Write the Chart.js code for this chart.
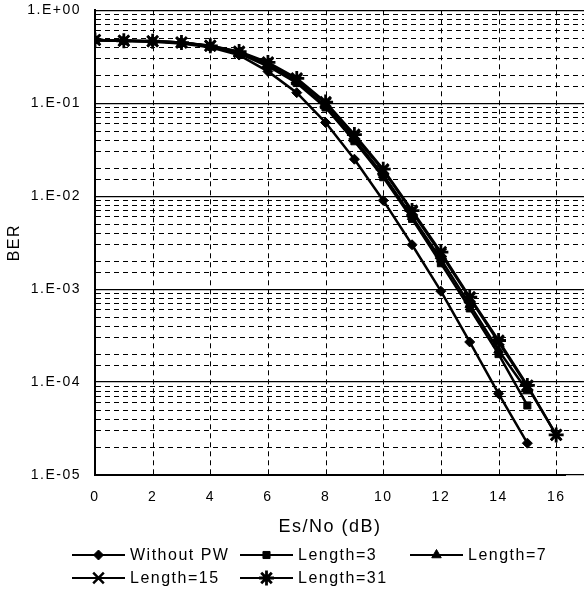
<!DOCTYPE html>
<html><head><meta charset="utf-8">
<script src="https://cdn.jsdelivr.net/npm/chart.js@4.4.0/dist/chart.umd.min.js"></script>
<style>html,body{margin:0;padding:0;background:#fff}#wrap{width:584px;height:598px;position:relative;overflow:hidden}</style>
</head><body><div id="wrap"><canvas id="c" width="584" height="598"></canvas></div>
<script>
// ---- data ----
const snr = [0,1,2,3,4,5,6,7,8,9,10,11,12,13,14,15,16];
const seriesNames = ['Without PW','Length=3','Length=7','Length=15','Length=31'];
const withoutPW = [0.48,0.47,0.46,0.44,0.40,0.33,0.22,0.13,0.062,0.025,0.009,0.003,0.00095,0.00027,0.000075,0.000022];
const length3   = [0.48,0.47,0.465,0.45,0.41,0.345,0.25,0.165,0.09,0.039,0.016,0.0057,0.0019,0.00062,0.0002,0.000056];
const length7   = [0.48,0.47,0.465,0.45,0.41,0.35,0.26,0.17,0.093,0.041,0.017,0.006,0.0021,0.00068,0.00022,0.00008];
const length15  = [0.48,0.47,0.465,0.45,0.415,0.355,0.27,0.18,0.1,0.044,0.019,0.0068,0.0024,0.0008,0.00027,0.00009,0.000027];
const length31  = [0.48,0.47,0.465,0.45,0.415,0.36,0.275,0.185,0.103,0.046,0.0195,0.007,0.0025,0.00082,0.00028,0.000092,0.000027];
const yTickLabels = ['1.E+00','1.E-01','1.E-02','1.E-03','1.E-04','1.E-05'];
const xTickLabels = ['0','2','4','6','8','10','12','14','16'];

const FONT = "'Liberation Sans', Arial, sans-serif";
Chart.defaults.font.family = FONT;
Chart.defaults.color = '#000';

const styles = [
  {pointStyle:'rectRot', radius:5, borderWidth:1},
  {pointStyle:'rect', radius:5, borderWidth:1},
  {pointStyle:'triangle', radius:5.5, borderWidth:1},
  {pointStyle:'crossRot', radius:7.5, borderWidth:2.5},
  {pointStyle:'star', radius:7.5, borderWidth:2.8}
];
const allSeries = [withoutPW, length3, length7, length15, length31];

const datasets = allSeries.map((arr, i) => ({
  label: seriesNames[i],
  data: arr.map((v, j) => ({x: snr[j], y: v})),
  borderColor: '#000',
  backgroundColor: '#000',
  borderWidth: 2.5,
  tension: 0,
  pointStyle: styles[i].pointStyle,
  pointRadius: styles[i].radius,
  pointBorderWidth: styles[i].borderWidth,
  pointBackgroundColor: '#000',
  pointBorderColor: '#000'
}));

const spacing = {
  id: 'spacing',
  beforeLayout(chart){ chart.ctx.letterSpacing = '1.5px'; },
  beforeDraw(chart){ chart.ctx.letterSpacing = '1.5px'; }
};

// let the plot run to the right edge of the canvas (x = 17 sits just past it)
const stretchRight = {
  id: 'stretchRight',
  afterLayout(chart){
    const xs = chart.scales.x;
    const target = chart.width + 1;
    xs.right = target;
    xs.width = target - xs.left;
    xs.configure();
    chart.chartArea.right = target;
    chart.chartArea.width = target - chart.chartArea.left;
    // axis title is centred on the visible original plot width
    xs.right = 565;
  }
};

// vertical dashed grid lines at the labelled (even) x ticks, positioned by the x scale
const vGrid = {
  id: 'vGrid',
  beforeDatasetsDraw(chart){
    const xs = chart.scales.x, a = chart.chartArea, ctx = chart.ctx;
    ctx.save();
    ctx.strokeStyle = '#000';
    ctx.lineWidth = 1;
    ctx.setLineDash([5, 4]);
    xs.ticks.forEach(t => {
      if (t.value % 2 === 0 && t.value > 0) {
        const px = Math.round(xs.getPixelForValue(t.value)) + 0.5;
        ctx.beginPath();
        ctx.moveTo(px, a.top);
        ctx.lineTo(px, a.bottom);
        ctx.stroke();
      }
    });
    ctx.restore();
  }
};

const customLegend = {
  id: 'customLegend',
  afterDraw(chart){
    const ctx = chart.ctx;
    const cols = [72, 240, 410];
    const rows = [555, 578];
    const lineLen = 53;
    ctx.save();
    ctx.letterSpacing = '1.5px';
    ctx.font = '16px ' + FONT;
    ctx.textBaseline = 'middle';
    ctx.textAlign = 'left';
    seriesNames.forEach((name, i) => {
      const x = cols[i % 3];
      const y = rows[Math.floor(i / 3)];
      ctx.strokeStyle = '#000';
      ctx.fillStyle = '#000';
      ctx.lineWidth = 2;
      ctx.setLineDash([]);
      ctx.beginPath();
      ctx.moveTo(x, y);
      ctx.lineTo(x + lineLen, y);
      ctx.stroke();
      ctx.lineWidth = styles[i].borderWidth;
      Chart.helpers.drawPoint(ctx, {pointStyle: styles[i].pointStyle, radius: styles[i].radius, borderWidth: styles[i].borderWidth, rotation: 0}, x + lineLen / 2, y);
      ctx.fillStyle = '#000';
      ctx.fillText(name, x + lineLen + 5, y + 1);
    });
    ctx.restore();
  }
};

const isDecade = v => { const e = Math.log10(v); return Math.abs(e - Math.round(e)) < 1e-9; };

new Chart(document.getElementById('c'), {
  type: 'line',
  data: { datasets },
  plugins: [spacing, stretchRight, vGrid, customLegend],
  options: {
    responsive: false,
    animation: false,
    layout: { padding: { left: 0, right: -1, top: 8, bottom: 60 } },
    plugins: { legend: { display: false }, tooltip: { enabled: false } },
    scales: {
      x: {
        type: 'linear',
        min: 0, max: 17,
        afterFit: s => { s.height = 63; s.paddingLeft = 0; s.paddingRight = 0; },
        ticks: {
          stepSize: 1, autoSkip: false, maxRotation: 0,
          font: { size: 14 }, padding: 6,
          callback: v => (v % 2 === 0 ? xTickLabels[v / 2] : '')
        },
        grid: { display: false, drawTicks: true, tickLength: 8 },
        border: { display: true, color: '#000', width: 2 },
        title: { display: true, text: 'Es/No (dB)', font: { size: 18 }, padding: { top: 7, bottom: 0 } }
      },
      y: {
        type: 'logarithmic',
        min: 1e-5, max: 1,
        afterFit: s => { s.width = 95; s.paddingTop = 0; s.paddingBottom = 0; },
        ticks: {
          autoSkip: false, font: { size: 14 }, padding: 6,
          callback: v => (isDecade(v) ? yTickLabels[Math.round(-Math.log10(v))] : '')
        },
        grid: {
          color: '#000',
          lineWidth: c => (c.tick && isDecade(c.tick.value) ? 1.2 : 1),
          drawTicks: true, tickLength: 8, tickColor: 'rgba(0,0,0,0)'
        },
        border: { display: true, color: '#000', width: 2, dash: c => (c.type === 'tick' && !isDecade(c.tick.value) ? [5, 4] : []) },
        title: { display: true, text: 'BER', font: { size: 16 }, padding: { top: 5, bottom: 0 } }
      }
    }
  }
});
</script></body></html>
